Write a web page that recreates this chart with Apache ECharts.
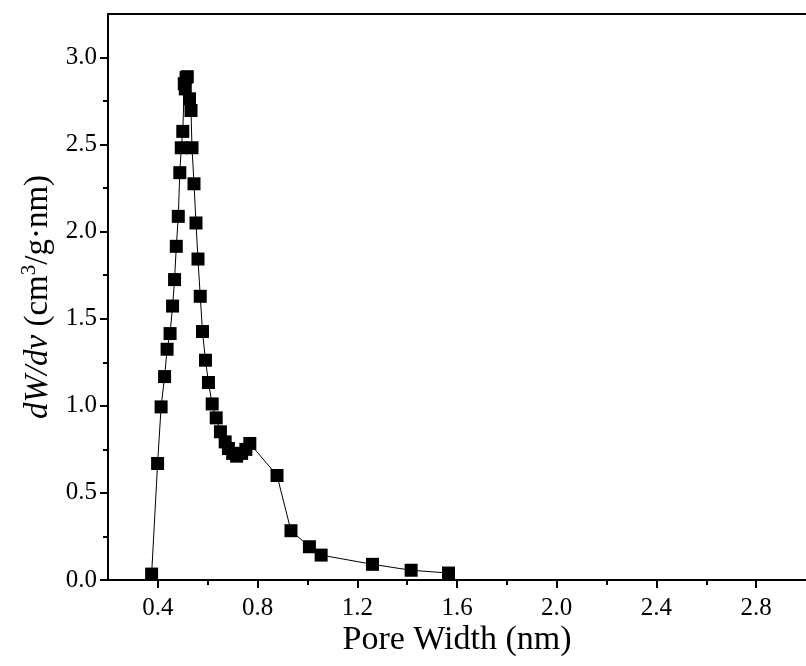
<!DOCTYPE html>
<html>
<head>
<meta charset="utf-8">
<script src="https://cdn.jsdelivr.net/npm/echarts@6/dist/echarts.min.js"></script>
<style>html,body{margin:0;padding:0;background:#fff}#c{width:806px;height:666px}</style>
</head>
<body>
<div id="c"></div>
<script>
const poreWidth = [0.375,0.399,0.413,0.427,0.437,0.449,0.459,0.467,0.474,0.482,0.488,0.494,0.500,0.506,0.510,0.513,0.518,0.527,0.533,0.537,0.545,0.553,0.561,0.570,0.579,0.591,0.603,0.618,0.634,0.651,0.670,0.683,0.700,0.716,0.736,0.753,0.769,0.878,0.934,1.008,1.055,1.261,1.416,1.566];
const dWdv = [0.034,0.669,0.994,1.168,1.325,1.415,1.573,1.725,1.916,2.088,2.339,2.482,2.576,2.850,2.820,2.885,2.890,2.763,2.696,2.482,2.275,2.050,1.843,1.629,1.427,1.262,1.134,1.011,0.931,0.851,0.793,0.755,0.727,0.711,0.727,0.750,0.784,0.600,0.283,0.191,0.143,0.090,0.056,0.040];
const xMajorTicks = [0.4,0.8,1.2,1.6,2.0,2.4,2.8];
const xMinorTicks = [0.6,1.0,1.4,1.8,2.2,2.6];
const yMajorTicks = [0.0,0.5,1.0,1.5,2.0,2.5,3.0];
const yMinorTicks = [0.25,0.75,1.25,1.75,2.25,2.75];

const FONT = '"Liberation Serif","Times New Roman",serif';
const chart = echarts.init(document.getElementById('c'), null, {renderer:'canvas'});
const lineStyle = {color:'#000', width:2};
chart.setOption({
  animation:false,
  backgroundColor:'#fff',
  grid:{left:108, top:14, width:706, height:566, show:false},
  xAxis:[
    {type:'value', min:0.2, max:3.0, position:'bottom',
     axisLine:{show:true, onZero:false, lineStyle},
     axisTick:{show:true, inside:false, length:8, lineStyle:{color:'#000',width:2}, customValues:xMajorTicks},
     axisLabel:{show:true, margin:16, fontFamily:FONT, fontSize:25, color:'#000', customValues:xMajorTicks, formatter:v=>v.toFixed(1)},
     splitLine:{show:false},
     name:'Pore Width (nm)', nameLocation:'middle', nameGap:43, nameMoveOverlap:false,
     nameTextStyle:{fontFamily:FONT, fontSize:34, color:'#000'}},
    {type:'value', min:0.2, max:3.0, position:'bottom',
     axisLine:{show:false},
     axisTick:{show:true, inside:false, length:5, lineStyle:{color:'#000',width:2}, customValues:xMinorTicks},
     axisLabel:{show:false}, splitLine:{show:false}},
    {type:'value', min:0.2, max:3.0, position:'top',
     axisLine:{show:true, onZero:false, lineStyle},
     axisTick:{show:false}, axisLabel:{show:false}, splitLine:{show:false}}
  ],
  yAxis:[
    {type:'value', min:0, max:3.25, position:'left',
     axisLine:{show:true, onZero:false, lineStyle},
     axisTick:{show:true, inside:false, length:8, lineStyle:{color:'#000',width:2}, customValues:yMajorTicks},
     axisLabel:{show:true, margin:11, fontFamily:FONT, fontSize:25, color:'#000', customValues:yMajorTicks, formatter:v=>v.toFixed(1)},
     splitLine:{show:false},
     name:'{i|dW/dv} {n|(cm}{s|3}{n|/g·nm)}', nameLocation:'middle', nameGap:53, nameRotate:90,
     nameTextStyle:{fontFamily:FONT, fontSize:33, color:'#000',
       rich:{
         i:{fontFamily:FONT, fontSize:33, fontStyle:'italic', color:'#000', lineHeight:36, verticalAlign:'bottom'},
         n:{fontFamily:FONT, fontSize:33, color:'#000', lineHeight:36, verticalAlign:'bottom'},
         s:{fontFamily:FONT, fontSize:21, color:'#000', lineHeight:36, verticalAlign:'top'}
       }}},
    {type:'value', min:0, max:3.25, position:'left',
     axisLine:{show:false},
     axisTick:{show:true, inside:false, length:5, lineStyle:{color:'#000',width:2}, customValues:yMinorTicks},
     axisLabel:{show:false}, splitLine:{show:false}}
  ],
  series:[{
    type:'line', xAxisIndex:0, yAxisIndex:0,
    data: poreWidth.map((x,i)=>[x, dWdv[i]]),
    symbol:'rect', symbolSize:13, showAllSymbol:true,
    itemStyle:{color:'#000'},
    lineStyle:{color:'#000', width:1}
  }]
});
</script>
</body>
</html>
